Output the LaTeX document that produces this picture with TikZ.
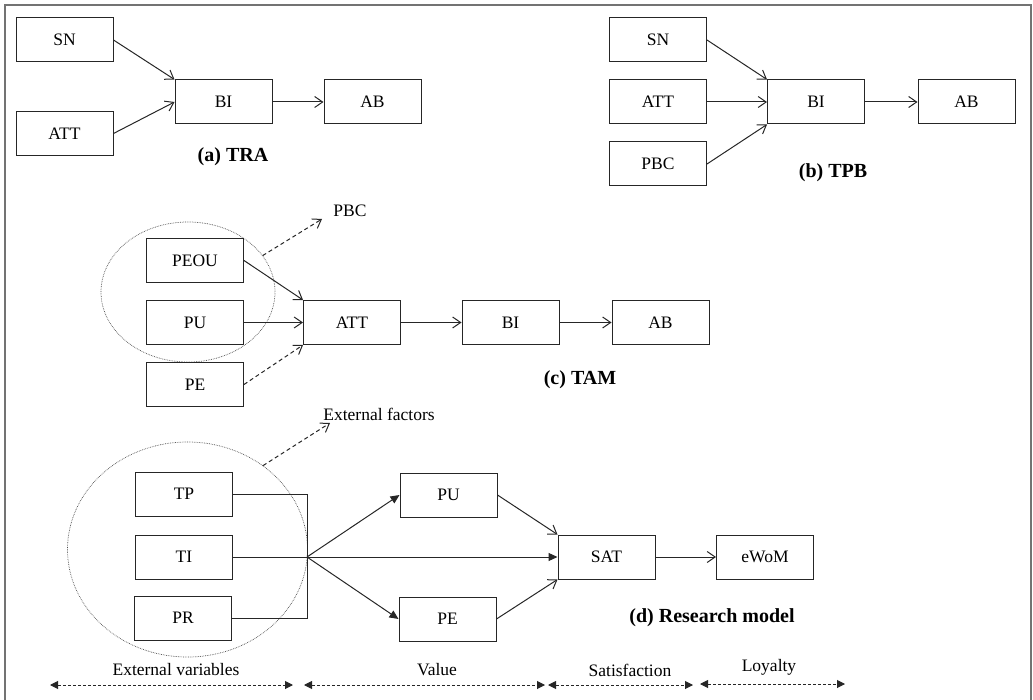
\documentclass[tikz,border=0pt]{standalone}
\usepackage{fontspec}
\setmainfont{Liberation Serif}
\usetikzlibrary{arrows.meta,shapes.geometric}
\tikzset{
 nodebox/.style={draw=black!85, line width=1pt, minimum width=97pt, minimum height=44pt, inner sep=0pt, font=\fontsize{17.5}{20}\selectfont},
 ttl/.style={font=\fontsize{20}{24}\selectfont\bfseries, inner sep=0pt},
 lbl/.style={font=\fontsize{17.5}{20}\selectfont, inner sep=0pt},
 con/.style={draw=black!85, line width=1pt, -{Straight Barb[length=8pt,width=11pt]}},
 dcon/.style={con, dash pattern=on 4pt off 3pt},
 fcon/.style={draw=black!85, line width=1pt, -{Triangle[length=9pt,width=8pt]}},
 plain/.style={draw=black!85, line width=1pt},
 grp/.style={draw=black!70, densely dotted, line width=0.7pt, ellipse, inner sep=0pt},
 spanarrow/.style={draw=black!85, line width=1pt, dash pattern=on 3pt off 2pt, {Triangle[length=8pt,width=8pt]}-{Triangle[length=8pt,width=8pt]}},
}
\begin{document}
\begin{tikzpicture}[x=1pt,y=-1pt]
\useasboundingbox (0,0) rectangle (1033,700);
\draw[black!55, line width=1.5pt] (5,700) -- (5,5) -- (1031,5) -- (1031,700);

% (a) TRA
\node[nodebox] (aSN) at (64.5,40) {SN};
\node[nodebox] (aATT) at (64.5,133.5) {ATT};
\node[nodebox] (aBI) at (223.5,102) {BI};
\node[nodebox] (aAB) at (372.5,102) {AB};
\node[ttl] (aT) at (233,157) {(a) TRA};
\draw[con] (aSN.east) -- (aBI.north west);
\draw[con] (aATT.east) -- (aBI.west);
\draw[con] (aBI.east) -- (aAB.west);

% (b) TPB
\node[nodebox] (bSN) at (658,40) {SN};
\node[nodebox] (bATT) at (658,102) {ATT};
\node[nodebox] (bPBC) at (658,164) {PBC};
\node[nodebox] (bBI) at (816,102) {BI};
\node[nodebox] (bAB) at (966.5,102) {AB};
\node[ttl] (bT) at (833,173) {(b) TPB};
\draw[con] (bSN.east) -- (bBI.north west);
\draw[con] (bATT.east) -- (bBI.west);
\draw[con] (bPBC.east) -- (bBI.south west);
\draw[con] (bBI.east) -- (bAB.west);

% (c) TAM
\node[grp, minimum width=174pt, minimum height=140pt] (cEll) at (188,292) {};
\node[nodebox] (cPEOU) at (195,260.5) {PEOU};
\node[nodebox] (cPU) at (195,322.5) {PU};
\node[nodebox] (cPE) at (195,384.5) {PE};
\node[nodebox] (cATT) at (352,322.5) {ATT};
\node[nodebox] (cBI) at (510.5,322.5) {BI};
\node[nodebox] (cAB) at (660.5,322.5) {AB};
\node[ttl] (cT) at (580,380) {(c) TAM};
\node[lbl] (cPBC) at (350,211) {PBC};
\coordinate (cPBCtip) at (322,219);
\draw[dcon] (cEll.26) -- (cPBCtip);
\draw[con] (cPEOU.east) -- (cATT.north west);
\draw[con] (cPU.east) -- (cATT.west);
\draw[dcon] (cPE.east) -- (cATT.south west);
\draw[con] (cATT.east) -- (cBI.west);
\draw[con] (cBI.east) -- (cAB.west);

% (d) Research model
\node[grp, minimum width=240pt, minimum height=215pt] (dEll) at (187.5,549.5) {};
\node[lbl] (dEF) at (379,414) {External factors};
\coordinate (dEFtip) at (330,423);
\draw[dcon] (dEll.48) -- (dEFtip);
\node[nodebox] (dTP) at (184,494) {TP};
\node[nodebox] (dTI) at (184,557) {TI};
\node[nodebox] (dPR) at (183,618) {PR};
\coordinate (jt) at (307,494);
\coordinate (jn) at (307,557);
\coordinate (jb) at (307,618);
\draw[plain] (dTP.east) -- (jt) -- (jb) -- (dPR.east);
\draw[plain] (dTI.east) -- (jn);
\node[nodebox] (dPU) at (448.5,495) {PU};
\node[nodebox] (dPE) at (447.5,619) {PE};
\node[nodebox] (dSAT) at (606.5,557) {SAT};
\node[nodebox] (dWOM) at (765,557) {eWoM};
\node[ttl] (dT) at (712,618) {(d) Research model};
\draw[fcon] (jn) -- (dPU.west);
\draw[fcon] (jn) -- (dSAT.west);
\draw[fcon] (jn) -- (dPE.west);
\draw[con] (dPU.east) -- (dSAT.north west);
\draw[con] (dPE.east) -- (dSAT.south west);
\draw[con] (dSAT.east) -- (dWOM.west);

% stages
\coordinate (s1a) at (50,685); \coordinate (s1b) at (293,685);
\coordinate (s2a) at (304,685); \coordinate (s2b) at (545,685);
\coordinate (s3a) at (548,685); \coordinate (s3b) at (693,685);
\coordinate (s4a) at (700,684); \coordinate (s4b) at (845,684);
\draw[spanarrow] (s1a) -- (s1b);
\draw[spanarrow] (s2a) -- (s2b);
\draw[spanarrow] (s3a) -- (s3b);
\draw[spanarrow] (s4a) -- (s4b);
\node[lbl] (l1) at (176,670) {External variables};
\node[lbl] (l2) at (437,670) {Value};
\node[lbl] (l3) at (630,670) {Satisfaction};
\node[lbl] (l4) at (769,667) {Loyalty};
\end{tikzpicture}
\end{document}
